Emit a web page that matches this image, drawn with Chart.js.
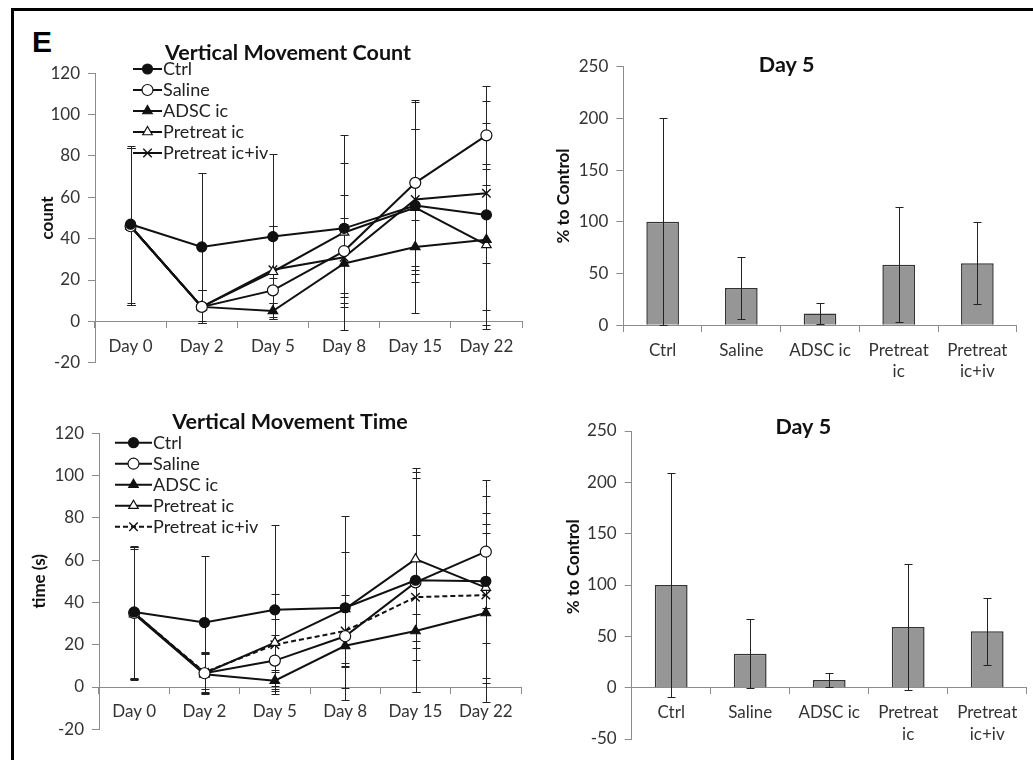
<!DOCTYPE html>
<html>
<head>
<meta charset="utf-8">
<script src="https://cdn.jsdelivr.net/npm/chart.js@4.4.1/dist/chart.umd.min.js"></script>
<style>
  html, body { margin: 0; padding: 0; background: #fff; overflow: hidden; }
  body { width: 1033px; height: 760px; position: relative; }
  .frame { position: absolute; left: 11px; top: 8px; width: 1040px; height: 770px;
           border-left: 3px solid #000; border-top: 3px solid #000; }
  .tag { position: absolute; left: 32px; top: 27px; font: bold 30px "Liberation Sans", Arial, sans-serif; line-height: 30px; }
  canvas { position: absolute; }
</style>
</head>
<body>
<div class="frame"></div>
<div class="tag">E</div>
<canvas id="countChart" width="540" height="400" style="left:0;top:0"></canvas>
<canvas id="countBars" width="493" height="400" style="left:540px;top:0"></canvas>
<canvas id="timeChart" width="540" height="380" style="left:0;top:380px"></canvas>
<canvas id="timeBars" width="493" height="380" style="left:540px;top:380px"></canvas>
<script>
// ---- data ----
const days = ['Day 0', 'Day 2', 'Day 5', 'Day 8', 'Day 15', 'Day 22'];
const seriesNames = ['Ctrl', 'Saline', 'ADSC ic', 'Pretreat ic', 'Pretreat ic+iv'];
const groups = ['Ctrl', 'Saline', 'ADSC ic', ['Pretreat', 'ic'], ['Pretreat', 'ic+iv']];

const lineTicks = [-20, 0, 20, 40, 60, 80, 100, 120];
const countBarTicks = [0, 50, 100, 150, 200, 250];
const timeBarTicks = [-50, 0, 50, 100, 150, 200, 250];

// vertical movement count (mean, sd)
const countCtrl = [47, 36, 41, 45, 56, 51.5];
const countCtrlSd = [38, 36, 40, 31.5, 37, 55];
const countSaline = [46, 7, 15, 34, 67, 90];
const countSalineSd = [38, 8, 6, 27, 40, 24];
const countAdsc = [46, 7, 5, 28, 36, 39.5];
const countAdscSd = [38, 8, 4, 19, 13, 34];
const countPreIc = [46, 7, 24, 43, 55, 37];
const countPreIcSd = [38, 8, 22, 47, 51, 39];
const countPreIv = [46, 7, 25, 31, 59, 62];
const countPreIvSd = [38, 8, 21, 19, 34, 34];

// vertical movement time (mean, sd)
const timeCtrl = [35.5, 30.5, 36.5, 37.5, 50.5, 50];
const timeCtrlSd = [31, 31.5, 40, 43.5, 53, 48];
const timeSaline = [35, 6.5, 12.5, 24, 49.5, 64];
const timeSalineSd = [31, 9.5, 12, 12.5, 52, 26.5];
const timeAdsc = [34.5, 6, 3, 19.5, 26.5, 35];
const timeAdscSd = [31, 9.5, 4, 20, 8, 42];
const timePreIc = [35, 6.5, 21, 37, 60.5, 47];
const timePreIcSd = [31, 9.5, 23, 27, 38.5, 26];
const timePreIv = [35, 7, 20, 26.5, 42.5, 43.5];
const timePreIvSd = [31, 9.5, 12, 17, 29.5, 39];

// day 5, % to control
const countPct = [100, 36, 11.5, 58.5, 60];
const countPctSd = [100, 30, 10, 55.5, 39.5];
const timePct = [100, 33, 7.5, 59, 55];
const timePctSd = [109, 33.5, 7, 61, 32.5];

// ---- styling ----
const FONT = 'Lato, "Open Sans", sans-serif';
const AXIS_GREY = '#8c8c8c';
const INK = '#111';
const markerStyle = ['circle', 'circle', 'triangle', 'triangle', 'crossRot'];
const markerFill = [INK, '#fff', INK, '#fff', INK];
const markerRadius = [5, 5.5, 5.5, 5.5, 6];

// error bars: behind the markers on line charts, on top of the bars
function drawErrors(chart) {
  const { ctx, scales: { y } } = chart;
  ctx.save();
  ctx.strokeStyle = '#222';
  ctx.lineWidth = 1;
  chart.data.datasets.forEach((ds, di) => {
    const meta = chart.getDatasetMeta(di);
    ds.data.forEach((v, i) => {
      const px = Math.round(meta.data[i].x) + 0.5;
      const hi = Math.round(y.getPixelForValue(v + ds.sd[i])) + 0.5;
      const lo = Math.round(y.getPixelForValue(v - ds.sd[i])) + 0.5;
      ctx.beginPath();
      ctx.moveTo(px, hi); ctx.lineTo(px, lo);
      ctx.moveTo(px - 4, hi); ctx.lineTo(px + 4, hi);
      ctx.moveTo(px - 4, lo); ctx.lineTo(px + 4, lo);
      ctx.stroke();
    });
  });
  ctx.restore();
}

const errorBars = {
  id: 'errorBars',
  beforeDatasetsDraw(chart) { if (chart.config.type === 'line') drawErrors(chart); },
  afterDatasetsDraw(chart) { if (chart.config.type === 'bar') drawErrors(chart); }
};

// chart title, plus an optional y title where excel did not centre it on the axis
const heading = {
  id: 'heading',
  afterDraw(chart, args, opts) {
    const ctx = chart.ctx;
    ctx.save();
    ctx.fillStyle = INK;
    ctx.textAlign = 'center';
    ctx.textBaseline = 'middle';
    ctx.font = 'bold 21.5px ' + FONT;
    ctx.fillText(opts.text, opts.x, opts.y);
    if (opts.side) {
      ctx.font = 'bold 17px ' + FONT;
      ctx.translate(opts.side.x, opts.side.y);
      ctx.rotate(-Math.PI / 2);
      ctx.fillText(opts.side.text, 0, 0);
    }
    ctx.restore();
  }
};

// excel style key: short line with the marker in its middle
const lineKey = {
  id: 'lineKey',
  afterDraw(chart, args, opts) {
    if (!opts.len) return;
    const ctx = chart.ctx;
    ctx.save();
    ctx.font = '18px ' + FONT;
    ctx.textBaseline = 'middle';
    chart.data.datasets.forEach((ds, i) => {
      const y = opts.y + i * opts.step;
      ctx.strokeStyle = ds.borderColor;
      ctx.lineWidth = ds.borderWidth;
      ctx.setLineDash(ds.borderDash);
      ctx.beginPath();
      ctx.moveTo(opts.x, y);
      ctx.lineTo(opts.x + opts.len, y);
      ctx.stroke();
      ctx.setLineDash([]);
      ctx.fillStyle = ds.pointBackgroundColor;
      ctx.strokeStyle = ds.pointBorderColor;
      ctx.lineWidth = ds.pointBorderWidth;
      Chart.helpers.drawPoint(ctx, { pointStyle: ds.pointStyle, radius: ds.pointRadius, rotation: 0, borderWidth: ds.pointBorderWidth }, opts.x + opts.len / 2, y);
      ctx.fillStyle = '#222';
      ctx.fillText(ds.label, opts.x + opts.len + 1, y);
    });
    ctx.restore();
  }
};

function yAxis(ticks, title, width, titlePad) {
  return {
    min: ticks[0],
    max: ticks[ticks.length - 1],
    ticks: { stepSize: ticks[1] - ticks[0], color: '#333', font: { family: FONT, size: 17 }, padding: 8 },
    grid: { drawOnChartArea: false, tickLength: 7, color: AXIS_GREY },
    border: { color: AXIS_GREY },
    title: { display: !!title, text: title, color: INK, font: { family: FONT, size: 17, weight: 'bold' }, padding: { top: titlePad, bottom: 0 } },
    afterFit: s => { s.width = width; }
  };
}

function xAxis() {
  return {
    axis: 'x',
    position: { y: 0 },
    offset: true,
    ticks: { color: '#333', font: { family: FONT, size: 17, lineHeight: 1.28 }, padding: 8, maxRotation: 0, autoSkip: false },
    grid: { offset: true, drawOnChartArea: false, tickLength: 6, color: AXIS_GREY },
    border: { color: AXIS_GREY }
  };
}

function lineSets(values, sds, dashLast) {
  return seriesNames.map((name, i) => ({
    label: name,
    data: values[i],
    sd: sds[i],
    borderColor: INK,
    borderWidth: 2,
    borderDash: dashLast && i === 4 ? [5, 3] : [],
    pointStyle: markerStyle[i],
    pointRadius: markerRadius[i],
    pointBackgroundColor: markerFill[i],
    pointBorderColor: INK,
    pointBorderWidth: i === 4 ? 1.4 : 1.2,
    tension: 0
  }));
}

function lineChart(id, values, sds, dashLast, g) {
  return new Chart(document.getElementById(id), {
    type: 'line',
    data: { labels: days, datasets: lineSets(values, sds, dashLast) },
    options: {
      responsive: false,
      animation: false,
      layout: { padding: g.pad },
      scales: { x: xAxis(), y: yAxis(lineTicks, g.yTitle, g.yWidth, g.yTitlePad) },
      plugins: {
        legend: { display: false },
        tooltip: { enabled: false },
        heading: g.heading,
        lineKey: g.key
      }
    },
    plugins: [errorBars, heading, lineKey]
  });
}

function barChart(id, values, sds, ticks, g) {
  return new Chart(document.getElementById(id), {
    type: 'bar',
    data: {
      labels: groups,
      datasets: [{
        label: 'Day 5',
        data: values,
        sd: sds,
        backgroundColor: '#969696',
        borderColor: '#333',
        borderWidth: 1.5,
        barPercentage: 0.415,
        categoryPercentage: 1
      }]
    },
    options: {
      responsive: false,
      animation: false,
      layout: { padding: g.pad },
      scales: { x: xAxis(), y: yAxis(ticks, g.yTitle, g.yWidth, g.yTitlePad) },
      plugins: {
        legend: { display: false },
        tooltip: { enabled: false },
        heading: g.heading
      }
    },
    plugins: [errorBars, heading]
  });
}

lineChart('countChart',
  [countCtrl, countSaline, countAdsc, countPreIc, countPreIv],
  [countCtrlSd, countSalineSd, countAdscSd, countPreIcSd, countPreIvSd],
  false,
  {
    pad: { left: 20, right: 18, top: 73.3, bottom: 37.3 },
    yWidth: 75, yTitle: 'count', yTitlePad: 17,
    heading: { text: 'Vertical Movement Count', x: 288, y: 53 },
    key: { x: 133, len: 29, y: 69, step: 21 }
  });

lineChart('timeChart',
  [timeCtrl, timeSaline, timeAdsc, timePreIc, timePreIv],
  [timeCtrlSd, timeSalineSd, timeAdscSd, timePreIcSd, timePreIvSd],
  true,
  {
    pad: { left: 20, right: 19, top: 53.3, bottom: 30.7 },
    yWidth: 79, yTitle: 'time (s)', yTitlePad: 9.5,
    heading: { text: 'Vertical Movement Time', x: 290, y: 41.7 },
    key: { x: 115, len: 37, y: 62.7, step: 21 }
  });

barChart('countBars', countPct, countPctSd, countBarTicks, {
  pad: { left: 10, right: 16.3, top: 66.7, bottom: 74.7 },
  yWidth: 73.3, yTitle: '% to Control', yTitlePad: 3.3,
  heading: { text: 'Day 5', x: 246.7, y: 65 }
});

barChart('timeBars', timePct, timePctSd, timeBarTicks, {
  pad: { left: 10, right: 6.3, top: 51, bottom: 21 },
  yWidth: 81.7, yTitle: '',
  heading: { text: 'Day 5', x: 263.3, y: 46.7, side: { text: '% to Control', x: 34, y: 186.7 } }
});
</script>
</body>
</html>
